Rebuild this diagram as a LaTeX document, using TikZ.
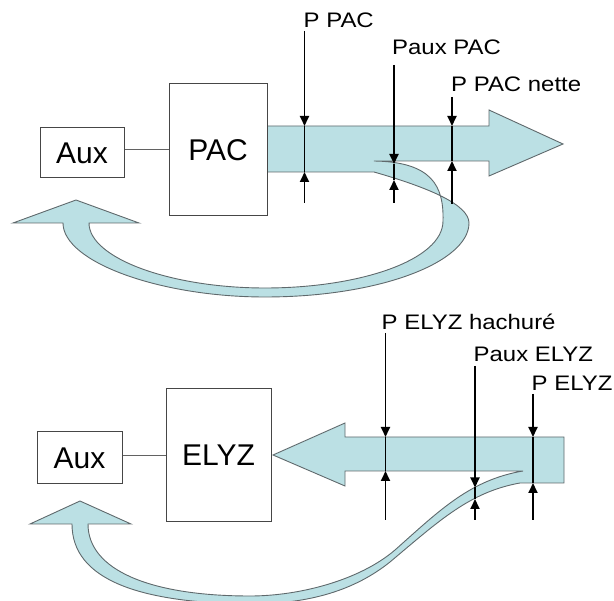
\documentclass[tikz,border=0pt]{standalone}
\usepackage{fontspec}
\setmainfont{Liberation Sans}
\usetikzlibrary{arrows.meta}
\definecolor{bandfill}{RGB}{187,224,228}
\definecolor{bandline}{RGB}{95,105,108}
\definecolor{boxline}{RGB}{70,70,70}
\tikzset{
  band/.style={fill=bandfill, draw=bandline, line width=0.9pt, line join=miter},
  boxnode/.style={draw=boxline, fill=white, line width=1pt, inner sep=0pt,
    font=\fontsize{30}{34}\selectfont},
  lbl/.style={font=\fontsize{21}{25}\selectfont, anchor=base west, inner sep=0pt},
  mline/.style={line width=1.8pt},
  marr/.style={line width=1.8pt, -{Triangle[length=10pt,width=9pt]}},
  link/.style={draw=boxline!85, line width=1pt}
}
\newcommand{\wlbl}[1]{\scalebox{1.14}[1]{#1}}
\begin{document}
\begin{tikzpicture}[x=1pt,y=-1pt]
\useasboundingbox (0,0) rectangle (614,601);

% ---------- top part: PAC ----------
\draw[band] (267,126) -- (489,126) -- (489,110) -- (563,144) -- (489,176) -- (489,161) -- (374,161)
  .. controls (432,162) and (444,186) .. (443,221)
  .. controls (443,260) and (360,288) .. (265,288)
  .. controls (170,288) and (89,258) .. (89,223)
  -- (139,223) -- (76,200) -- (13,223) -- (63,223)
  .. controls (63,262) and (160,297) .. (265,297)
  .. controls (380,297) and (469,262) .. (469,223)
  .. controls (469,205) and (430,188) .. (374,172)
  -- (267,172) -- cycle;

\node[boxnode, minimum width=84pt, minimum height=50pt] (aux1) at (82,153) {Aux};
\node[boxnode, minimum width=98pt, minimum height=132pt] (pac) at (218,150) {PAC};
\draw[link] (aux1.east |- pac.west) -- (pac.west);

% measurement arrows (top)
\coordinate (a1t) at (304.5,31);  \coordinate (a1d) at (304.5,126);
\coordinate (a1u) at (304.5,172); \coordinate (a1b) at (304.5,203);
\coordinate (a2t) at (394,65);    \coordinate (a2d) at (394,164);
\coordinate (a2u) at (394,180);   \coordinate (a2b) at (394,203);
\coordinate (a3t) at (452,97);    \coordinate (a3d) at (452,126);
\coordinate (a3u) at (452,161);   \coordinate (a3b) at (452,204);
\foreach \i in {1,2,3}{
  \draw[marr] (a\i t) -- (a\i d);
  \draw[mline] (a\i d) -- (a\i u);
  \draw[marr] (a\i b) -- (a\i u);
}
\node[lbl] (l1) at (303.5,27.5) {\wlbl{P PAC}};
\node[lbl] (l2) at (392,55) {\wlbl{Paux PAC}};
\node[lbl] (l3) at (451,91.5) {\wlbl{P PAC nette}};

% ---------- bottom part: ELYZ ----------
\draw[band] (564,437) -- (345,437) -- (345,423) -- (273,455) -- (345,486) -- (345,471) -- (523,471)
  .. controls (470,480) and (440,510) .. (395,550)
  .. controls (360,580) and (300,596) .. (250,596)
  .. controls (150,596) and (88,570) .. (88,524)
  -- (131,524) -- (80,501) -- (30,524) -- (72,524)
  .. controls (72,580) and (140,603) .. (250,604)
  .. controls (310,604) and (355,590) .. (390,562)
  .. controls (440,520) and (470,492) .. (520,483)
  -- (564,483) -- cycle;

\node[boxnode, minimum width=85pt, minimum height=52pt] (aux2) at (79.5,458) {Aux};
\node[boxnode, minimum width=105pt, minimum height=133pt] (elyz) at (218.5,455.5) {ELYZ};
\draw[link] (aux2.east |- elyz.west) -- (elyz.west);

\coordinate (b1t) at (385.5,333); \coordinate (b1d) at (385.5,437);
\coordinate (b1u) at (385.5,471); \coordinate (b1b) at (385.5,520);
\coordinate (b2t) at (475,366);   \coordinate (b2d) at (475,487.5);
\coordinate (b2u) at (475,499);   \coordinate (b2b) at (475,520);
\coordinate (b3t) at (533,394);   \coordinate (b3d) at (533,437);
\coordinate (b3u) at (533,483);   \coordinate (b3b) at (533,520);
\foreach \i in {1,2,3}{
  \draw[marr] (b\i t) -- (b\i d);
  \draw[mline] (b\i d) -- (b\i u);
  \draw[marr] (b\i b) -- (b\i u);
}
\node[lbl] (m1) at (381.5,330) {\wlbl{P ELYZ hachuré}};
\node[lbl] (m2) at (473.5,361.5) {\wlbl{Paux ELYZ}};
\node[lbl] (m3) at (531.5,391) {\wlbl{P ELYZ}};
\end{tikzpicture}
\end{document}
